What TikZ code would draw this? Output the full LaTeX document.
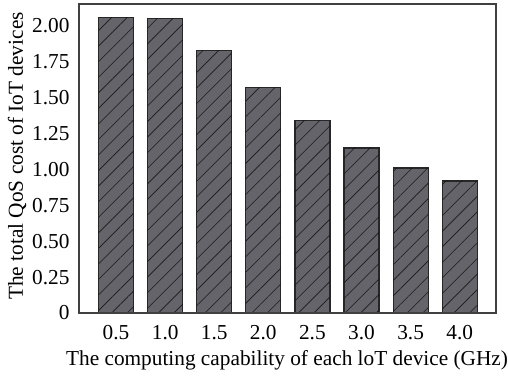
\documentclass[tikz,border=0pt]{standalone}
\usepackage{fontspec}
\setmainfont{Liberation Serif}
\usetikzlibrary{patterns.meta}
\definecolor{barfill}{RGB}{100,100,106}
\def\qosbar(#1)(#2){\draw[line width=1.2pt, color=black!85, fill=barfill, postaction={pattern={Lines[angle=45, distance=11pt, line width=0.6pt]}, pattern color=black!90}] (#1-17.5, 65) rectangle (#1+17.5, {65+143.5*#2});}

\begin{document}
\begin{tikzpicture}[x=1pt, y=1pt, font=\fontsize{21.3}{25}\selectfont]
			%%%%% START %%%%%
			
			\useasboundingbox (0, 0) rectangle (508, 378);
			
			\qosbar(116)(2.06)
			\qosbar(165.2)(2.05)
			\qosbar(214.2)(1.83)
			\qosbar(263.3)(1.57)
			\qosbar(312.4)(1.34)
			\qosbar(361.5)(1.15)
			\qosbar(410.6)(1.01)
			\qosbar(459.7)(0.92)
			
			\draw[line width=1.1pt, color=black!75] (79, 65) rectangle (496, 374);
			
			\node[anchor=east] (y0) at (73, 65) {0};
			\node[anchor=east] (y1) at (73, 100.9) {0.25};
			\node[anchor=east] (y2) at (73, 136.8) {0.50};
			\node[anchor=east] (y3) at (73, 172.6) {0.75};
			\node[anchor=east] (y4) at (73, 208.5) {1.00};
			\node[anchor=east] (y5) at (73, 244.4) {1.25};
			\node[anchor=east] (y6) at (73, 280.3) {1.50};
			\node[anchor=east] (y7) at (73, 316.1) {1.75};
			\node[anchor=east] (y8) at (73, 352) {2.00};
			
			\node (x1) at (116, 45) {0.5};
			\node (x2) at (165.2, 45) {1.0};
			\node (x3) at (214.2, 45) {1.5};
			\node (x4) at (263.3, 45) {2.0};
			\node (x5) at (312.4, 45) {2.5};
			\node (x6) at (361.5, 45) {3.0};
			\node (x7) at (410.6, 45) {3.5};
			\node (x8) at (459.7, 45) {4.0};
			
			\node (xlabel) at (287, 18) {The computing capability of each loT device (GHz)};
			\node[rotate=90] (ylabel) at (17, 222) {The total QoS cost of IoT devices};
			
			%%%%% END %%%%%
		\end{tikzpicture}
\end{document}
